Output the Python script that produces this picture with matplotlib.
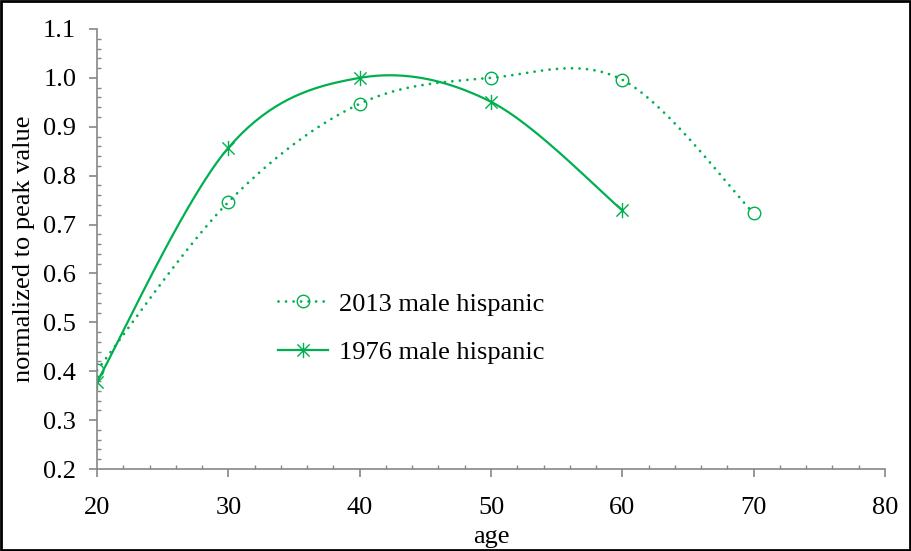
import numpy as np
import matplotlib
matplotlib.use("Agg")
import matplotlib.pyplot as plt
from matplotlib.path import Path
from matplotlib.patches import Rectangle
from matplotlib.ticker import MultipleLocator

# ---------------- data ----------------
age_2013 = [20, 30, 40, 50, 60, 70]
val_2013 = [0.402, 0.746, 0.947, 1.000, 0.996, 0.723]
age_1976 = [20, 30, 40, 50, 60]
val_1976 = [0.378, 0.857, 1.000, 0.951, 0.729]
label_2013 = "2013 male hispanic"
label_1976 = "1976 male hispanic"

green = "#00B050"
gray = "#868686"
plt.rcParams['font.family'] = ['Liberation Serif', 'DejaVu Serif']


def smooth(xs, ys, n=40):
    # excel-like smoothing: cubic bezier with catmull-rom control points
    pts = np.column_stack([xs, ys]).astype(float)
    ext = np.vstack([pts[0], pts, pts[-1]])
    out = []
    t = np.linspace(0, 1, n)[:, None]
    for i in range(len(pts) - 1):
        p0 = ext[i + 1]
        p3 = ext[i + 2]
        c1 = p0 + (ext[i + 2] - ext[i]) / 6
        c2 = p3 - (ext[i + 3] - ext[i + 1]) / 6
        seg = (1 - t) ** 3 * p0 + 3 * (1 - t) ** 2 * t * c1 + 3 * (1 - t) * t ** 2 * c2 + t ** 3 * p3
        out.append(seg if i == 0 else seg[1:])
    out = np.vstack(out)
    return out[:, 0], out[:, 1]


# asterisk marker like excel's star
star = Path([(0, -1), (0, 1), (-0.8, -0.8), (0.8, 0.8), (-0.8, 0.8), (0.8, -0.8)],
            [Path.MOVETO, Path.LINETO, Path.MOVETO, Path.LINETO, Path.MOVETO, Path.LINETO])

dots = (0, (0.01, 2.7))
lw = 2.0

fig = plt.figure(figsize=(9.12, 5.51), dpi=100)
ax = fig.add_axes([0.1064, 0.1488, 0.864, 0.7986])

# 2013 dotted
sx, sy = smooth(age_2013, val_2013)
ax.plot(sx, sy, color=green, lw=lw, linestyle=dots, dash_capstyle='round')
ax.plot(age_2013, val_2013, linestyle='none', marker='o', ms=9, mfc='none', mec=green, mew=1.0)
# 1976 solid
sx, sy = smooth(age_1976, val_1976)
ax.plot(sx, sy, color=green, lw=1.6)
ax.plot(age_1976, val_1976, linestyle='none', marker=star, ms=11, mec=green, mew=1.0)

# legend proxies
h1, = ax.plot([], [], color=green, lw=lw, linestyle=dots, dash_capstyle='round',
              marker='o', ms=9, mfc='none', mec=green, mew=1.0)
h2, = ax.plot([], [], color=green, lw=1.6, marker=star, ms=11, mec=green, mew=1.0)
ax.legend([h1, h2], [label_2013, label_1976], frameon=False, fontsize=19,
          loc='upper left', bbox_to_anchor=(0.2165, 0.426), handlelength=1.9,
          handletextpad=0.4, labelspacing=0.95, borderaxespad=0)

ax.set_xlim(20, 80)
ax.set_ylim(0.2, 1.1)
ax.xaxis.set_major_locator(MultipleLocator(10))
ax.xaxis.set_minor_locator(MultipleLocator(2))
ax.yaxis.set_major_locator(MultipleLocator(0.1))
ax.yaxis.set_minor_locator(MultipleLocator(0.02))
ax.yaxis.set_major_formatter(matplotlib.ticker.FormatStrFormatter('%.1f'))

for s in ['top', 'right']:
    ax.spines[s].set_visible(False)
for s in ['left', 'bottom']:
    ax.spines[s].set_color(gray)
    ax.spines[s].set_linewidth(1.2)
ax.tick_params(which='major', direction='out', length=6, width=1.2, color=gray,
               labelsize=19, pad=9)
ax.tick_params(which='minor', direction='in', length=3, width=1.0, color=gray)
ax.tick_params(axis='x', which='major', pad=14)

ax.set_xlabel("age", fontsize=19, labelpad=5)
ax.set_ylabel("normalized to peak value", fontsize=19, labelpad=6)

# outer border
fig.patches.append(Rectangle((0.001, 0.002), 0.997, 0.996, transform=fig.transFigure,
                             fill=False, edgecolor='black', lw=2))

fig.savefig("out.png", dpi=100)
